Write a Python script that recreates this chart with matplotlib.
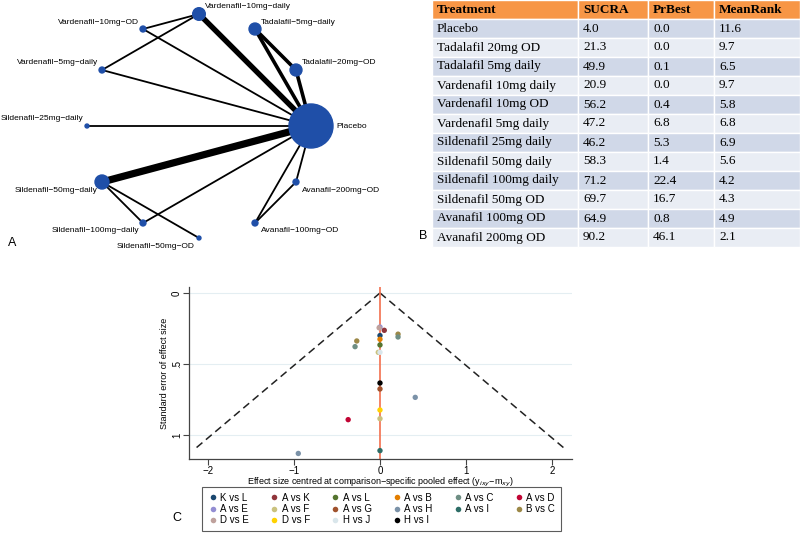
import matplotlib.pyplot as plt
import numpy as np
from matplotlib.patches import Circle, Rectangle
from matplotlib.lines import Line2D

plt.rcParams['font.family'] = ['Liberation Sans', 'DejaVu Sans']

# ---------------- A: network of treatments ----------------
# nodes listed counter-clockwise starting at Placebo (3 o'clock)
nodes = ["Placebo", "Tadalafil−20mg−OD", "Tadalafil−5mg−daily",
         "Vardenafil−10mg−daily", "Vardenafil−10mg−OD", "Vardenafil−5mg−daily",
         "Sildenafil−25mg−daily", "Sildenafil−50mg−daily", "Sildenafil−100mg−daily",
         "Sildenafil−50mg−OD", "Avanafil−100mg−OD", "Avanafil−200mg−OD"]
node_n = [988, 73, 73, 81, 18, 18, 8, 100, 18, 8, 18, 18]
edges = [
    ("Placebo", "Vardenafil−10mg−daily", 3),
    ("Placebo", "Tadalafil−5mg−daily", 2),
    ("Placebo", "Tadalafil−20mg−OD", 2),
    ("Tadalafil−5mg−daily", "Tadalafil−20mg−OD", 2),
    ("Placebo", "Vardenafil−10mg−OD", 1),
    ("Placebo", "Vardenafil−5mg−daily", 1),
    ("Placebo", "Sildenafil−25mg−daily", 1),
    ("Placebo", "Sildenafil−50mg−daily", 4),
    ("Placebo", "Sildenafil−100mg−daily", 1),
    ("Placebo", "Avanafil−200mg−OD", 1),
    ("Placebo", "Avanafil−100mg−OD", 1),
    ("Avanafil−200mg−OD", "Avanafil−100mg−OD", 1),
    ("Vardenafil−10mg−OD", "Vardenafil−10mg−daily", 1),
    ("Vardenafil−5mg−daily", "Vardenafil−10mg−daily", 1),
    ("Sildenafil−50mg−daily", "Sildenafil−100mg−daily", 1),
    ("Sildenafil−50mg−daily", "Sildenafil−50mg−OD", 1),
]

# ---------------- B: ranking table ----------------
tab_header = ["Treatment", "SUCRA", "PrBest", "MeanRank"]
treatments = ["Placebo", "Tadalafil 20mg OD", "Tadalafil 5mg daily",
              "Vardenafil 10mg daily", "Vardenafil 10mg OD", "Vardenafil 5mg daily",
              "Sildenafil 25mg daily", "Sildenafil 50mg daily", "Sildenafil 100mg daily",
              "Sildenafil 50mg OD", "Avanafil 100mg OD", "Avanafil 200mg OD"]
sucra = [4.0, 21.3, 49.9, 20.9, 56.2, 47.2, 46.2, 58.3, 71.2, 69.7, 64.9, 90.2]
prbest = [0.0, 0.0, 0.1, 0.0, 0.4, 6.8, 5.3, 1.4, 22.4, 16.7, 0.8, 46.1]
meanrank = [11.6, 9.7, 6.5, 9.7, 5.8, 6.8, 6.9, 5.6, 4.2, 4.3, 4.9, 2.1]

# ---------------- C: comparison-adjusted funnel plot ----------------
comparisons = ["K vs L", "A vs K", "A vs L", "A vs B", "A vs C", "A vs D",
               "A vs E", "A vs F", "A vs G", "A vs H", "A vs I", "B vs C",
               "D vs E", "D vs F", "H vs J", "H vs I"]
comp_colors = ["#1a476f", "#90353b", "#55752f", "#e37e00", "#6e8e84", "#c10534",
               "#938dd2", "#cac27e", "#a0522d", "#7b92a8", "#2d6d66", "#9c8847",
               "#bfa19c", "#ffd200", "#d9e6eb", "#000000"]
pt_comp = ["A vs E", "D vs E", "A vs K", "K vs L", "B vs C", "A vs C", "A vs B",
           "B vs C", "A vs L", "A vs C", "A vs F", "H vs J", "H vs I", "A vs G",
           "A vs H", "D vs F", "A vs F", "A vs D", "A vs I", "A vs H"]
pt_x = [0.00, -0.01, 0.05, 0.00, 0.21, 0.21, 0.00, -0.27, 0.00, -0.29, -0.02,
        0.00, 0.00, 0.00, 0.41, 0.00, 0.00, -0.37, 0.00, -0.95]
pt_se = [0.240, 0.245, 0.263, 0.300, 0.290, 0.310, 0.326, 0.338, 0.366, 0.378,
         0.418, 0.418, 0.634, 0.676, 0.735, 0.824, 0.885, 0.892, 1.110, 1.130]
funnel_se = [0.0, 1.1]

fig = plt.figure(figsize=(8, 5.36), dpi=100)

# overlay axes in pixel units for panels A and B
ov = fig.add_axes([0, 0, 1, 1])
ov.set_xlim(0, 800)
ov.set_ylim(536, 0)
ov.axis("off")
ov.patch.set_alpha(0)

# network layout on a circle
cx, cy, R = 199, 126, 112
ang = np.deg2rad(np.arange(len(nodes)) * 360 / len(nodes))
pos = {n: (cx + R * np.cos(a), cy - R * np.sin(a)) for n, a in zip(nodes, ang)}
rad = {n: 0.7 * np.sqrt(v) for n, v in zip(nodes, node_n)}

for a, b, w in edges:
    ov.plot([pos[a][0], pos[b][0]], [pos[a][1], pos[b][1]], color="black",
            lw=w * 1.3, solid_capstyle="butt", zorder=2)
for n, a in zip(nodes, ang):
    x, y = pos[n]
    ov.add_patch(Circle((x, y), rad[n], color="#1f4fa8", zorder=3))
    c, s = np.cos(a), np.sin(a)
    if n == "Placebo":
        ov.text(x + rad[n] + 3, y + 1, n, fontsize=6, ha="left", va="center")
        continue
    ha = "left" if c > 1e-6 or abs(c) < 1e-6 and s > 0 else "right"
    dx = 6 if ha == "left" else -4
    dy = -7 if s > -1e-6 else 8
    ov.text(x + dx, y + dy, n, fontsize=6, ha=ha, va="center")
ov.text(8, 243, "A", fontsize=9, ha="left", va="center")

# table
col_edges = [432, 578, 648, 714, 800]
top, hdr_h, row_h = 0, 18.5, 19
for j, h in enumerate(tab_header):
    ov.add_patch(Rectangle((col_edges[j], top), col_edges[j + 1] - col_edges[j], hdr_h,
                           facecolor="#f79646", edgecolor="white", lw=1, zorder=2))
    ov.text(col_edges[j] + 5, top + hdr_h / 2 + 0.5, h, fontsize=9.5, fontweight="bold",
            family="Liberation Serif", ha="left", va="center", zorder=3)
rows = list(zip(treatments, sucra, prbest, meanrank))
for i, r in enumerate(rows):
    y0 = top + hdr_h + i * row_h
    fc = "#d0d8e8" if i % 2 == 0 else "#e9edf4"
    vals = [r[0], f"{r[1]:.1f}", f"{r[2]:.1f}", f"{r[3]:.1f}"]
    for j, v in enumerate(vals):
        ov.add_patch(Rectangle((col_edges[j], y0), col_edges[j + 1] - col_edges[j], row_h,
                               facecolor=fc, edgecolor="white", lw=1, zorder=2))
        ov.text(col_edges[j] + 5, y0 + row_h / 2 + 0.5, v, fontsize=9.5,
                family="Liberation Serif", ha="left", va="center", zorder=3)
ov.text(419, 236, "B", fontsize=9, ha="left", va="center")
ov.text(172, 518, "C", fontsize=9, ha="left", va="center")

# funnel plot
ax = fig.add_axes([189 / 800, 1 - 459 / 536, (572 - 189) / 800, (459 - 287) / 536])
ax.set_xlim(-2.221, 2.233)
ax.set_ylim(1.169, -0.042)
for g in [0, 0.5, 1]:
    ax.axhline(g, color="#e4eef2", lw=0.8, zorder=0)
fx = 1.96 * np.array(funnel_se)
ax.plot(fx, funnel_se, ls=(0, (5, 3)), color="#222222", lw=1.1, zorder=1)
ax.plot(-fx, funnel_se, ls=(0, (5, 3)), color="#222222", lw=1.1, zorder=1)
ax.axvline(0, color="#f2704e", lw=1.2, zorder=2)
cmap = dict(zip(comparisons, comp_colors))
ax.scatter(pt_x, pt_se, s=15, c=[cmap[c] for c in pt_comp], edgecolors="none", zorder=3)

for sp in ["top", "right"]:
    ax.spines[sp].set_visible(False)
for sp in ["left", "bottom"]:
    ax.spines[sp].set_color("#444444")
    ax.spines[sp].set_linewidth(0.9)
ax.set_xticks([-2, -1, 0, 1, 2])
ax.set_yticks([0, 0.5, 1])
ax.set_yticklabels(["0", ".5", "1"], rotation=90, va="center")
ax.tick_params(labelsize=7, length=4, width=0.8, color="#444444", pad=1)
ax.set_xlabel("Effect size centred at comparison−specific pooled effect (y$_{ixy}$−m$_{xy}$)",
              fontsize=6.5, labelpad=0)
ax.set_ylabel("Standard error of effect size", fontsize=6.5, labelpad=2)

handles = [Line2D([], [], ls="none", marker="o", ms=4, color=c, mec="none")
           for c in comp_colors]
order = [i + 6 * k for i in range(6) for k in range(3) if i + 6 * k < len(comparisons)]
leg = fig.legend([handles[i] for i in order], [comparisons[i] for i in order], ncol=6,
                 loc="upper left", mode="expand",
                 bbox_to_anchor=(202 / 800, 1 - 531 / 536, 359 / 800, 44 / 536),
                 borderaxespad=0, fontsize=7, frameon=True, fancybox=False,
                 handletextpad=0.3, handlelength=1.0, labelspacing=0.12,
                 borderpad=0.6)
leg.get_frame().set_edgecolor("#333333")
leg.get_frame().set_linewidth(0.8)

plt.savefig("out.png", dpi=100)
